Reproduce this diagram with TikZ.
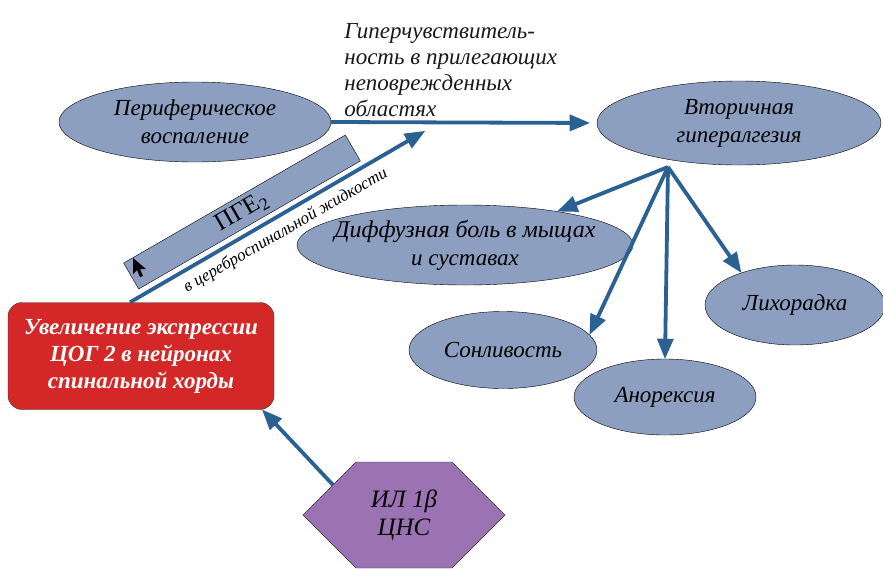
\documentclass[tikz,border=0pt]{standalone}
\usepackage{fontspec}
\setmainfont{Liberation Serif}
\usetikzlibrary{arrows,shapes.geometric,shapes.symbols}
\definecolor{ellblue}{RGB}{141,159,192}
\definecolor{arrblue}{RGB}{42,96,146}
\definecolor{boxred}{RGB}{212,40,40}
\definecolor{hexviolet}{RGB}{155,115,178}
\tikzstyle{symptom}=[ellipse,draw=black,fill=ellblue,inner sep=0pt,align=center,font=\itshape\fontsize{23}{28}\selectfont]
\tikzstyle{edge} = [draw,arrblue,line width=3.8pt,-triangle 45]
\tikzstyle{note} = [text=black!90,font=\itshape\fontsize{23}{26}\selectfont]

\begin{document}
\begin{tikzpicture}[x=1pt,y=-1pt]
\useasboundingbox (0,0) rectangle (883,568);
% First the ellipses
\foreach \pos/\name/\w/\h/\sep/\txt in {{(195,122)/per/272/80/0/{Периферическое\\воспаление}},
		{(739,123)/vtor/284/84/0/{Вторичная\\гипералгезия}},
		{(465,245)/dif/336/80/-14/{\fontsize{24}{27}\selectfont Диффузная боль в мыщах\\и суставах}},
		{(795,305)/lih/180/80/0/{Лихорадка}}, {(503,350)/son/188/77/0/{Сонливость}},
		{(665,397)/an/182/76/0/{Анорексия}}}
	\node[symptom, inner xsep=\sep pt, minimum width=\w pt, minimum height=\h pt] (\name) at \pos {\txt};

% the red box and the hexagon
\node[draw=black!80, fill=boxred, rounded corners=14pt, minimum width=266pt, minimum height=107pt,
	align=center, text=white, font=\bfseries\itshape\fontsize{23}{27}\selectfont] (red) at (141,356)
	{Увеличение экспрессии\\ЦОГ 2 в нейронах\\спинальной хорды};
\node[signal, signal to=west and east, signal pointer angle=90, draw=black!80, fill=hexviolet,
	minimum width=202pt, minimum height=106pt, align=center, font=\itshape\fontsize{25}{28}\selectfont]
	(il) at (404,515) {ИЛ 1β\\ЦНС};

% the tilted PGE2 bar with its pointer
\node[draw=black, fill=ellblue, rotate=30, minimum width=256pt, minimum height=30pt, inner sep=0pt,
	font=\fontsize{25}{25}\selectfont] (pge) at (242,212) {ПГЕ\textsubscript{2}};
\fill[black] (133,258) -- (133,274) -- (137,270) -- (140,277) -- (143,276) -- (140,269) -- (146,269) -- cycle;

% Connect with arrows
\path[edge, shorten >=7pt] (per.east) -- node[note, above, align=left, pos=0.45]
	{Гиперчувствитель-\\ность в прилегающих\\неповрежденных\\областях} (vtor.west);
\coordinate (csf) at (425,131);
\path[edge] ([xshift=-11pt]red.north) -- node[sloped, below=3pt, text=black, font=\itshape\fontsize{17}{18}\selectfont]
	{в цереброспинальной жидкости} (csf);
\path[edge] (il.157) -- ([xshift=-12pt]red.south east);

\coordinate (hub) at (668,167);
\foreach \dest in {dif.20, son.10, an.north, lih.149}
	\path[edge] (hub) -- (\dest);
\end{tikzpicture}
\end{document}
